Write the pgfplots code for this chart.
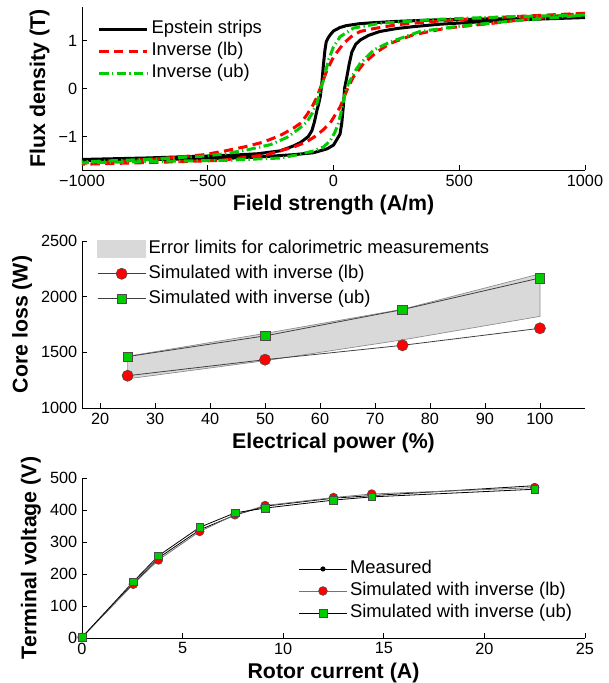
\documentclass[border=0pt]{standalone}
\usepackage{fontspec}
\setmainfont{Liberation Sans}
\usepackage{pgfplots}
\pgfplotsset{compat=1.18}

\definecolor{mred}{rgb}{1,0,0}
\definecolor{mgreen}{rgb}{0,0.8,0}
\definecolor{bandgray}{gray}{0.85}

\pgfplotsset{
  every axis/.append style={
    scale only axis, width=377.25pt,
    axis x line*=bottom, axis y line*=left,
    axis line style={-, line width=0.6pt},
    tick align=inside, major tick length=3.5pt,
    tick style={black, line width=0.6pt},
    tick label style={font=\fontsize{12.2}{14}\selectfont},
    label style={font=\fontsize{16}{18}\selectfont\bfseries},
    /pgf/number format/assume math mode=true,
    /pgf/number format/1000 sep={},
    scaled ticks=false,
    legend cell align=left,
    legend style={draw=none, fill=none, font=\fontsize{13.8}{16}\selectfont,
      inner sep=0pt, column sep=2pt,
      nodes={inner sep=0pt, text height=10pt, text depth=3pt}},
    legend image code/.code={\draw[mark repeat=2,mark phase=2,#1]
      plot coordinates {(0pt,0pt) (18pt,0pt) (36pt,0pt)};},
  }
}

\begin{document}
\begin{tikzpicture}
\path[use as bounding box] (-61.5pt,0pt) rectangle (395.25pt,-512.25pt);

% hysteresis loops
\begin{axis}[at={(0pt,-127.5pt)}, anchor=south west, height=122.25pt,
  xmin=-1000, xmax=1000, ymin=-1.7, ymax=1.7,
  xtick={-1000,-500,0,500,1000}, xticklabels={−1000,−500,0,500,1000},
  ytick={-1,0,1}, yticklabels={−1,0,1},
  xlabel={Field strength (A/m)}, ylabel={Flux density (T)},
  legend style={at={(axis description cs:0.031,0.730)}, anchor=west, row sep=3.5pt}]
\addplot[black, line width=2.25pt] coordinates {
 (1000,1.48) (800,1.465) (600,1.45) (400,1.43) (250,1.40) (150,1.37) (100,1.35)
 (50,1.31) (25,1.27) (0,1.20) (-13,1.12) (-22,1.05) (-29,0.97) (-34,0.80)
 (-40,0.50) (-46,0.13) (-52,-0.15) (-58,-0.30) (-66,-0.46) (-76,-0.70)
 (-86,-0.88) (-100,-1.00) (-132,-1.13) (-160,-1.20) (-212,-1.30) (-300,-1.36)
 (-400,-1.39) (-513,-1.41) (-750,-1.45) (-1000,-1.48)
 (-1000,-1.50) (-700,-1.48) (-450,-1.46) (-300,-1.43) (-158,-1.38) (-80,-1.34)
 (-26,-1.26) (0,-1.18) (15,-1.05) (26,-0.95) (33,-0.72) (40,-0.32) (44,0.0)
 (53,0.24) (62,0.50) (73,0.76) (88,0.92) (106,1.01) (140,1.11) (185,1.19)
 (250,1.25) (317,1.29) (420,1.34) (516,1.37) (714,1.43) (1000,1.48)};
\addlegendentry{Epstein strips}
\addplot[mred, line width=2.25pt, dash pattern=on 7pt off 4pt] coordinates {
 (1000,1.57) (800,1.52) (600,1.47) (400,1.40) (251,1.33) (160,1.25) (106,1.19)
 (70,1.08) (40,0.94) (20,0.80) (0,0.66) (-26,0.38) (-46,0.10) (-66,-0.18)
 (-85,-0.38) (-106,-0.55) (-130,-0.72) (-160,-0.83) (-212,-0.98) (-280,-1.12)
 (-356,-1.22) (-430,-1.30) (-513,-1.38) (-700,-1.47) (-1000,-1.56)
 (-1000,-1.58) (-700,-1.54) (-450,-1.50) (-264,-1.38) (-212,-1.30) (-158,-1.22)
 (-110,-1.12) (-79,-1.02) (-45,-0.88) (-13,-0.72) (10,-0.52) (26,-0.39)
 (53,-0.04) (79,0.24) (119,0.52) (172,0.76) (225,0.94) (317,1.12) (450,1.26)
 (648,1.37) (800,1.47) (1000,1.57)};
\addlegendentry{Inverse (lb)}
\addplot[mgreen, line width=2.25pt, dash pattern=on 7pt off 2.5pt on 1pt off 2.5pt] coordinates {
 (1000,1.53) (800,1.51) (600,1.48) (400,1.44) (185,1.36) (79,1.26) (26,1.08)
 (0,0.87) (-20,0.59) (-40,0.17) (-50,0.0) (-66,-0.31) (-85,-0.52) (-106,-0.70)
 (-140,-0.85) (-185,-1.02) (-250,-1.17) (-343,-1.28) (-430,-1.36) (-513,-1.41)
 (-750,-1.48) (-1000,-1.53)
 (-1000,-1.55) (-700,-1.52) (-440,-1.50) (-212,-1.45) (-140,-1.38) (-79,-1.30)
 (-40,-1.22) (-13,-1.09) (5,-0.92) (20,-0.72) (30,-0.50) (40,-0.25) (50,0.0)
 (66,0.17) (85,0.36) (106,0.52) (159,0.80) (225,0.97) (344,1.19) (516,1.31)
 (714,1.41) (1000,1.53)};
\addlegendentry{Inverse (ub)}
\end{axis}

% core loss
\begin{axis}[at={(0pt,-306pt)}, anchor=south west, height=125.25pt,
  xmin=16.7, xmax=108.2, ymin=1000, ymax=2500,
  xtick={20,30,...,100}, ytick={1000,1500,2000,2500},
  xlabel={Electrical power (\%)}, ylabel={Core loss (W)},
  legend style={at={(axis description cs:0.0298,0.805)}, anchor=west, row sep=5.75pt}]
\addplot[fill=bandgray, draw=black!45, line width=0.5pt,
  legend image code/.code={\fill[bandgray] (0pt,-6.4pt) rectangle (36pt,6.4pt);}]
  coordinates {(25,1465) (50,1670) (75,1887) (100,2205)
               (100,1823) (75,1612) (50,1425) (25,1262)} -- cycle;
\addlegendentry{Error limits for calorimetric measurements}
\addplot[black!75, line width=0.6pt, mark=*, mark size=4.2pt,
  mark options={fill=mred, draw=black!70, line width=0.4pt}]
  coordinates {(25,1290) (50,1434) (75,1563) (100,1716)};
\addlegendentry{Simulated with inverse (lb)}
\addplot[black!75, line width=0.6pt, mark=square*, mark size=3.6pt,
  mark options={fill=mgreen, draw=black!70, line width=0.4pt}]
  coordinates {(25,1462) (50,1648) (75,1884) (100,2168)};
\addlegendentry{Simulated with inverse (ub)}
\end{axis}

% open-circuit characteristic
\begin{axis}[at={(0pt,-478.5pt)}, anchor=south west, height=120pt,
  xmin=0, xmax=25, ymin=0, ymax=500,
  xtick={0,5,...,25}, ytick={0,100,...,500},
  xlabel={Rotor current (A)}, ylabel={Terminal voltage (V)},
  legend style={at={(axis description cs:0.430,0.294)}, anchor=west, row sep=3.5pt}]
\addplot[black, line width=0.6pt, mark=*, mark size=1.6pt]
  coordinates {(0,2) (2.55,170) (3.8,250) (5.85,338) (7.6,384) (9.1,412)
               (12.5,437) (14.4,445) (22.5,476)};
\addlegendentry{Measured}
\addplot[black!55, line width=0.6pt, mark=*, mark size=3.3pt,
  mark options={fill=mred, draw=black!70, line width=0.4pt}]
  coordinates {(0,2) (2.55,168) (3.8,244) (5.85,333) (7.6,385) (9.1,414)
               (12.5,439) (14.4,450) (22.5,470)};
\addlegendentry{Simulated with inverse (lb)}
\addplot[black, line width=0.6pt, mark=square*, mark size=2.9pt,
  mark options={fill=mgreen, draw=black!70, line width=0.4pt}]
  coordinates {(0,2) (2.55,176) (3.8,257) (5.85,346) (7.6,391) (9.1,406)
               (12.5,431) (14.4,441) (22.5,465)};
\addlegendentry{Simulated with inverse (ub)}
\end{axis}
\end{tikzpicture}
\end{document}
